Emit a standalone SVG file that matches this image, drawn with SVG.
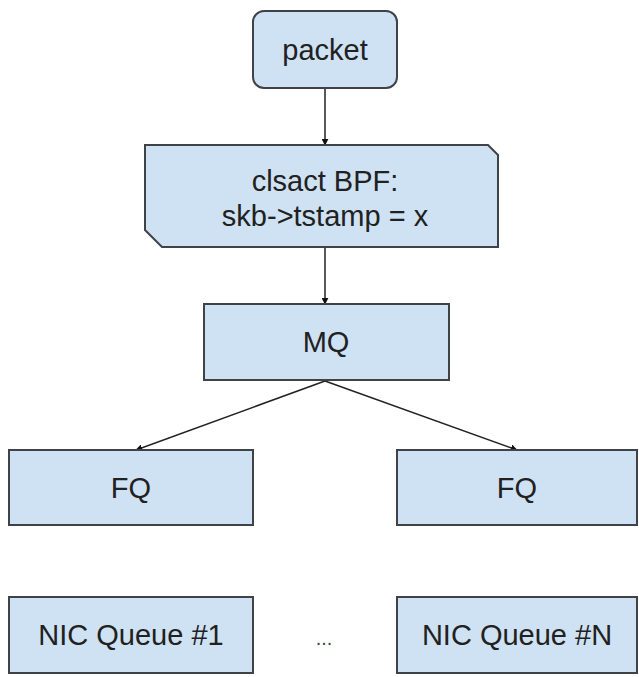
<svg xmlns="http://www.w3.org/2000/svg" width="639" height="677" viewBox="0 0 639 677">
<style>
.box{fill:#cfe2f3;stroke:#3f4347;stroke-width:2}
.t{font-family:"Liberation Sans",Arial,sans-serif;font-size:29px;fill:#212121;text-anchor:middle}
.c{stroke:#222;stroke-width:1.5;fill:none;marker-end:url(#ah)}
</style>
<defs>
<marker id="ah" viewBox="0 0 10 10" refX="9" refY="5" markerWidth="7" markerHeight="7" markerUnits="userSpaceOnUse" orient="auto">
<path d="M0,0 L10,5 L0,10 z" fill="#111"/>
</marker>
</defs>
<rect width="639" height="677" fill="#fff"/>
<g id="connectors">
<line class="c" x1="325" y1="89" x2="325" y2="145"/>
<line class="c" x1="325" y1="248" x2="325" y2="304"/>
<line class="c" x1="325" y1="381" x2="136" y2="450"/>
<line class="c" x1="325" y1="381" x2="517" y2="450"/>
</g>
<g id="packet">
<rect class="box" x="253" y="11" width="144" height="77" rx="11"/>
<text class="t" x="325" y="60">packet</text>
</g>
<g id="clsact">
<path class="box" d="M145,145 L488,145 L498,155 L498,247 L162,247 L145,230 Z"/>
<text class="t" x="325" y="191">clsact BPF:</text>
<text class="t" x="325" y="226">skb-&gt;tstamp = x</text>
</g>
<g id="mq">
<rect class="box" x="204" y="304" width="245" height="76"/>
<text class="t" x="326" y="352">MQ</text>
</g>
<g id="fq1">
<rect class="box" x="9" y="450" width="244" height="75"/>
<text class="t" x="131" y="498">FQ</text>
</g>
<g id="fq2">
<rect class="box" x="397" y="450" width="240" height="75"/>
<text class="t" x="517" y="498">FQ</text>
</g>
<g id="nic1">
<rect class="box" x="9" y="597" width="244" height="76"/>
<text class="t" x="131" y="645">NIC Queue #1</text>
</g>
<text class="t" x="324" y="645" style="font-size:20px;fill:#444">...</text>
<g id="nicn">
<rect class="box" x="397" y="597" width="240" height="76"/>
<text class="t" x="517" y="645">NIC Queue #N</text>
</g>
</svg>
